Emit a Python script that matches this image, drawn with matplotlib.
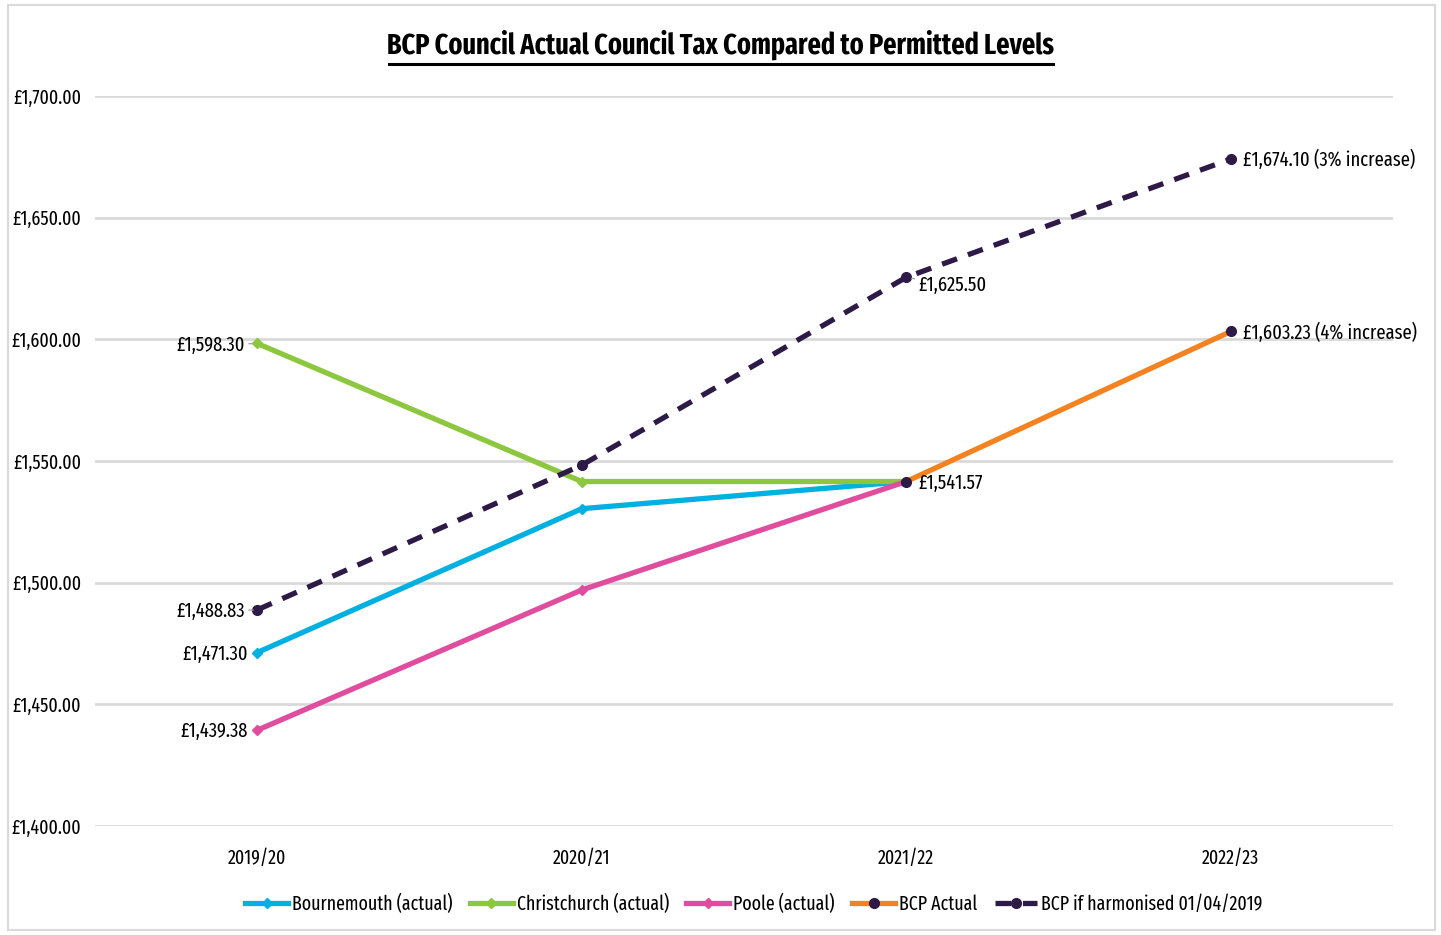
import matplotlib.pyplot as plt
from matplotlib.patches import Rectangle

# ######### Data #########
years = ["2019/20", "2020/21", "2021/22", "2022/23"]
bournemouth = [1471.30, 1530.40, 1541.57, None]
christchurch = [1598.30, 1541.57, 1541.57, None]
poole = [1439.38, 1497.00, 1541.57, None]
bcp_actual = [None, None, 1541.57, 1603.23]
bcp_harmonised = [1488.83, 1548.30, 1625.50, 1674.10]
y_ticks = [1400, 1450, 1500, 1550, 1600, 1650, 1700]

plt.rcParams["font.family"] = ["Fira Sans Extra Condensed", "DejaVu Sans"]


def xy(vals):
    pts = [(i, v) for i, v in enumerate(vals) if v is not None]
    return [p[0] for p in pts], [p[1] for p in pts]


fig = plt.figure(figsize=(14.41, 9.35), dpi=100)
ax = fig.add_axes([95 / 1441, 1 - 826 / 935, 1298 / 1441, 730 / 935])

fig.patches.append(Rectangle((8 / 1441, 5 / 935), 1427 / 1441, 925 / 935,
                             transform=fig.transFigure, fill=False,
                             edgecolor="#d9d9d9", lw=1.5))

series = [
    ("Bournemouth (actual)", bournemouth, "#00b0e0", "-", "D", 5),
    ("Christchurch (actual)", christchurch, "#8dc63f", "-", "D", 5),
    ("Poole (actual)", poole, "#e04c9e", "-", "D", 5),
    ("BCP Actual", bcp_actual, "#f58220", "-", "o", 7),
    ("BCP if harmonised 01/04/2019", bcp_harmonised, "#2e1a47", (0, (3, 2.2)), "o", 7),
]
for label, vals, color, ls, mk, ms in series:
    xs, ys = xy(vals)
    mfc = "#2e1a47" if mk == "o" else color
    ax.plot(xs, ys, color=color, lw=3.8, ls=ls, marker=mk, ms=ms,
            mfc=mfc, mec=mfc, label=label, zorder=3)

ax.set_xlim(-0.5, 3.5)
ax.set_ylim(1400, 1700)
ax.set_yticks(y_ticks)
ax.set_yticklabels([f"£{v:,.2f}" for v in y_ticks], fontsize=14)
ax.set_xticks(range(len(years)))
ax.set_xticklabels(years, fontsize=14)
ax.tick_params(length=0)
ax.tick_params(axis="y", pad=10)
ax.tick_params(axis="x", pad=16)
ax.grid(axis="y", color="#d9d9d9", lw=2)
ax.set_axisbelow(True)
for s in ax.spines.values():
    s.set_visible(False)

# data labels
lab = dict(fontsize=14.5, va="center")
for v in [christchurch[0], bcp_harmonised[0]]:
    ax.annotate(f"£{v:,.2f}", xy=(0, v), xytext=(-9, -1), textcoords="offset points",
                ha="right", arrowprops=dict(arrowstyle="-", color="#a6a6a6", lw=1,
                                            shrinkA=1, shrinkB=3), **lab)
for v in [bournemouth[0], poole[0]]:
    ax.annotate(f"£{v:,.2f}", xy=(0, v), xytext=(-7, -1), textcoords="offset points",
                ha="right", **lab)
ax.annotate(f"£{bcp_harmonised[2]:,.2f}", xy=(2, bcp_harmonised[2]), xytext=(9, -6),
            textcoords="offset points", ha="left",
            arrowprops=dict(arrowstyle="-", color="#a6a6a6", lw=1, shrinkA=1, shrinkB=4), **lab)
ax.annotate(f"£{bcp_actual[2]:,.2f}", xy=(2, bcp_actual[2]), xytext=(9, -1),
            textcoords="offset points", ha="left", **lab)
ax.annotate(f"£{bcp_harmonised[3]:,.2f} (3% increase)", xy=(3, bcp_harmonised[3]),
            xytext=(9, -1), textcoords="offset points", ha="left", **lab)
ax.annotate(f"£{bcp_actual[3]:,.2f} (4% increase)", xy=(3, bcp_actual[3]),
            xytext=(9, -1), textcoords="offset points", ha="left", **lab)

fig.text(0.5, 1 - 45 / 935, "BCP Council Actual Council Tax Compared to Permitted Levels",
         ha="center", va="center", fontsize=20.5, fontweight="bold")
fig.add_artist(plt.Line2D([389 / 1441, 1053 / 1441], [1 - 64 / 935, 1 - 64 / 935],
                          color="black", lw=2.2))

fig.legend(loc="center", bbox_to_anchor=(754 / 1441, 1 - 904 / 935), ncol=5, frameon=False,
           fontsize=14, handlelength=2.2, columnspacing=0.9, handletextpad=0.2)

fig.savefig("out.png", dpi=100)
